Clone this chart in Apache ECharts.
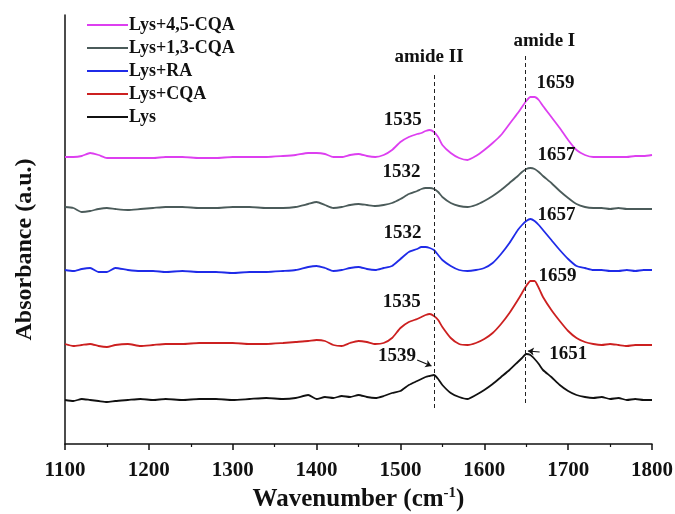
<!DOCTYPE html>
<html>
<head>
<meta charset="utf-8">
<script src="https://cdn.jsdelivr.net/npm/echarts@6/dist/echarts.min.js"></script>
<style>
  html,body{margin:0;padding:0;background:#fff;}
  #main{width:675px;height:514px;}
</style>
</head>
<body>
<div id="main"></div>
<script>
// wavenumber grid (cm-1)
var wn = [1100,1110,1120,1130,1140,1150,1160,1175,1190,1205,1220,1240,1260,1280,1300,1320,1340,1360,1375,1390,
  1400,1410,1420,1430,1440,1450,1460,1470,1480,1490,1500,1510,1520,1525,1530,1535,1540,1545,1550,1560,
  1570,1580,1590,1600,1610,1620,1630,1640,1645,1650,1655,1660,1665,1670,1680,1690,1700,1710,1720,1730,
  1740,1750,1760,1770,1780,1790,1800];

// absorbance (a.u., curves stacked with offset)
var lys = [44,43,45,44,43,42,43,44,45,44,45,44,45,45,44,45,46,45,46,49,
  45,47,46,48,47,49,47,46,48,51,53,59,63,65,67,68,69,65,59,51,
  47,45,49,54,60,67,74,82,86,90,89,85,80,74,67,59,53,49,47,46,
  47,45,46,44,45,44,44];
var lysCQA = [100,98,99,100,98,97,99,100,98,99,100,100,101,101,101,100,100,101,102,103,
  104,103,99,98,101,103,102,100,101,106,116,122,125,127,129,130,128,124,117,106,
  100,99,101,105,111,120,131,144,151,158,163,163,156,147,134,123,113,106,102,100,
  99,100,99,98,99,99,99];
var lysRA = [174,173,175,176,172,172,176,174,173,173,172,173,172,172,171,172,172,173,174,177,
  178,176,173,174,176,177,175,174,176,178,185,192,195,197,197,196,194,189,184,178,
  174,173,174,176,181,190,201,214,219,223,225,223,219,214,204,194,185,178,176,174,
  174,173,173,174,173,174,174];
var lys13 = [237,236,232,233,235,236,235,234,235,236,237,237,236,236,237,237,236,236,237,240,
  242,239,236,237,239,240,239,238,239,241,245,250,253,255,256,256,255,252,247,241,
  238,237,239,243,248,254,261,268,272,275,276,275,272,268,261,253,246,240,237,236,
  236,235,236,235,235,235,235];
var lys45 = [287,287,288,291,289,286,286,286,286,286,287,287,286,286,287,287,287,288,289,291,
  291,290,287,287,289,290,288,287,289,294,302,307,310,311,313,314,312,307,299,291,
  286,284,288,294,301,309,320,331,337,343,347,347,344,338,327,316,304,294,289,287,
  287,287,287,287,288,288,289];

var names = ['Lys+4,5-CQA','Lys+1,3-CQA','Lys+RA','Lys+CQA','Lys'];
var colors = ['#dd3ff0','#4b5b5a','#1f2be8','#cc2020','#111111'];
var curves = [lys45, lys13, lysRA, lysCQA, lys];
// peak positions labelled on each curve
var peaks = [[1535,1655],[1530,1655],[1530,1655],[1535,1660],[1540,1650]];
var peakText = [['1535','1659'],['1532','1657'],['1532','1657'],['1535','1659'],['1539','1651']];
var peakOffset = [
  [[-27,-10],[25,-14]],
  [[-24,-16],[26,-13]],
  [[-23,-14],[26,-4]],
  [[-28,-12],[23,-5]],
  [[-37,-19],[42,0]]
];

var serif = '"Liberation Serif","DejaVu Serif",serif';

function pairs(ys){
  var out = [];
  for(var i=0;i<wn.length;i++){ out.push([wn[i], ys[i]]); }
  return out;
}
function valAt(ys, w){
  var idx = wn.indexOf(w);
  return ys[idx];
}

var series = [];
for(var s=0;s<curves.length;s++){
  var mp = [];
  for(var k=0;k<2;k++){
    mp.push({
      coord:[peaks[s][k], valAt(curves[s], peaks[s][k])],
      label:{show:true, position:'inside', formatter:peakText[s][k], offset:peakOffset[s][k],
        color:'#111', fontFamily:serif, fontWeight:'bold', fontSize:19}
    });
  }
  var item = {
    name:names[s],
    type:'line',
    data:pairs(curves[s]),
    symbol:'none',
    smooth:0.2,
    lineStyle:{color:colors[s], width:1.8},
    itemStyle:{color:colors[s]},
    z:3,
    markPoint:{silent:true, symbol:'circle', symbolSize:2,
      itemStyle:{color:'rgba(0,0,0,0)'}, data:mp}
  };
  series.push(item);
}

// dashed guide lines for amide bands, and arrows on Lys curve
series[4].markLine = {
  silent:true,
  symbol:['none','none'],
  lineStyle:{color:'#222', type:[4,3], width:1},
  label:{show:true, position:'end', color:'#111', fontFamily:serif, fontWeight:'bold', fontSize:19},
  data:[
    [{coord:[1540,36]},{coord:[1540,371], label:{formatter:'amide II', offset:[-5,-1]}}],
    [{coord:[1649,41]},{coord:[1649,391], label:{formatter:'amide I', offset:[19,3]}}]
  ]
};
series[3].markLine = {
  silent:true,
  symbol:['none','arrow'],
  symbolSize:6,
  lineStyle:{color:'#111', type:'solid', width:1.2},
  label:{show:false},
  data:[
    [{coord:[1520,84]},{coord:[1537,78]}],
    [{coord:[1666,92]},{coord:[1652,93]}]
  ]
};

var myChart = echarts.init(document.getElementById('main'));
var option = {
  animation:false,
  backgroundColor:'#fff',
  legend:{
    orient:'vertical',
    left:82, top:11,
    itemWidth:41, itemHeight:2, itemGap:5,
    icon:'rect',
    data:names,
    textStyle:{color:'#111', fontFamily:serif, fontWeight:'bold', fontSize:18, padding:[0,0,0,-4]}
  },
  grid:{left:65, right:23, top:15, bottom:70, outerBoundsMode:'none'},
  xAxis:{
    type:'value', min:1100, max:1800, interval:100,
    name:'{a|Wavenumber (cm}{s|-1}{a|)}',
    nameLocation:'middle', nameGap:41,
    nameTextStyle:{rich:{
      a:{fontFamily:serif, fontWeight:'bold', fontSize:25, color:'#111'},
      s:{fontFamily:serif, fontWeight:'bold', fontSize:15, color:'#111', verticalAlign:'top', padding:[0,0,12,0]}
    }},
    axisLine:{lineStyle:{color:'#111', width:1.5}},
    axisTick:{length:6, lineStyle:{color:'#111', width:1.5}},
    minorTick:{show:true, splitNumber:2, length:3, lineStyle:{color:'#111', width:1.2}},
    splitLine:{show:false},
    axisLabel:{margin:16, color:'#111', fontFamily:serif, fontWeight:'bold', fontSize:21,
      formatter:function(v){ return String(v); }}
  },
  yAxis:{
    type:'value', min:0, max:429,
    name:'Absorbance (a.u.)',
    nameLocation:'middle', nameGap:28, nameRotate:90,
    nameTextStyle:{fontFamily:serif, fontWeight:'bold', fontSize:24, color:'#111', padding:[0,40,0,0]},
    axisLine:{show:true, lineStyle:{color:'#111', width:1.5}},
    axisTick:{show:false},
    axisLabel:{show:false},
    splitLine:{show:false}
  },
  series:series
};
myChart.setOption(option);
</script>
</body>
</html>
